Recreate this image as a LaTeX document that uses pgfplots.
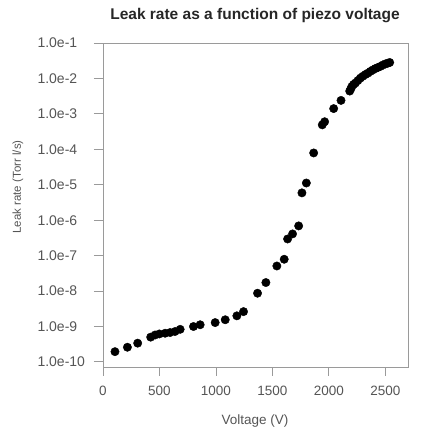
\documentclass[border=0pt]{standalone}
\usepackage{pgfplots}
\pgfplotsset{compat=1.18}
\usepackage{fontspec}
\setmainfont{Liberation Sans}
\definecolor{axgray}{HTML}{9A9A9A}
\definecolor{txgray}{HTML}{555555}
\begin{document}
\begin{tikzpicture}
\begin{axis}[
  name=ax,
  scale only axis,
  width=305pt, height=324pt,
  xmin=0, xmax=2700,
  ymode=log,
  ymin=7.2e-11, ymax=1e-1,
  axis line style={axgray, line width=0.9pt},
  every tick/.style={axgray, line width=0.9pt},
  tick align=outside,
  major tick length=9pt,
  xtick={0,500,1000,1500,2000,2500},
  xticklabels={0,500,1000,1500,2000,2500},
  xtick pos=bottom, ytick pos=left,
  ytick={1e-10,1e-9,1e-8,1e-7,1e-6,1e-5,1e-4,1e-3,1e-2,1e-1},
  yticklabels={1.0e-10,1.0e-9,1.0e-8,1.0e-7,1.0e-6,1.0e-5,1.0e-4,1.0e-3,1.0e-2,1.0e-1},
  yminorticks=false,
  /pgf/number format/assume math mode=true,
  yticklabel style={font=\fontsize{14}{16}\selectfont, text=txgray, anchor=west, xshift=-60pt},
  xticklabel style={font=\fontsize{13.5}{15}\selectfont, text=txgray, yshift=-7pt},
  clip=false,
]
\addplot[only marks, mark=*, mark size=4.2pt, black] coordinates {
(106,1.95e-10) (216,2.60e-10) (307,3.39e-10) (422,5.01e-10) (461,5.75e-10)
(499,6.17e-10) (550,6.46e-10) (594,6.76e-10) (638,7.24e-10) (683,8.32e-10)
(801,1.0e-9) (860,1.12e-9) (993,1.29e-9) (1082,1.55e-9) (1185,2.0e-9)
(1244,2.63e-9) (1368,8.7e-9) (1442,1.74e-8) (1539,5.1e-8) (1604,7.9e-8)
(1634,2.95e-7) (1678,4.1e-7) (1732,6.9e-7) (1761,5.9e-6) (1800,1.12e-5)
(1865,7.9e-5) (1941,4.9e-4) (1962,6.0e-4) (2042,1.41e-3) (2107,2.4e-3)
(2184,4.4e-3) (2194,5.1e-3) (2204,6.0e-3) (2219,6.8e-3) (2234,7.4e-3)
(2256,8.7e-3) (2278,1.02e-2) (2300,1.15e-2) (2323,1.29e-2) (2345,1.41e-2)
(2367,1.58e-2) (2389,1.74e-2) (2411,1.9e-2) (2433,2.04e-2) (2456,2.19e-2)
(2478,2.4e-2) (2500,2.57e-2) (2520,2.69e-2) (2538,2.82e-2)
};
\end{axis}
\node[font=\fontsize{15.5}{18}\selectfont\bfseries, text=black!85] at ([xshift=152pt,yshift=351pt]ax.south west) {Leak rate as a function of piezo voltage};
\node[font=\fontsize{13.5}{16}\selectfont, text=txgray] at ([xshift=152pt,yshift=-54pt]ax.south west) {Voltage (V)};
\node[font=\fontsize{11.5}{13}\selectfont, text=txgray, rotate=90] at ([xshift=-85pt,yshift=180pt]ax.south west) {Leak rate (Torr l/s)};
\pgfresetboundingbox
\path[use as bounding box] ([xshift=-103pt,yshift=-63pt]ax.south west) rectangle ([xshift=317pt,yshift=367pt]ax.south west);
\end{tikzpicture}
\end{document}
